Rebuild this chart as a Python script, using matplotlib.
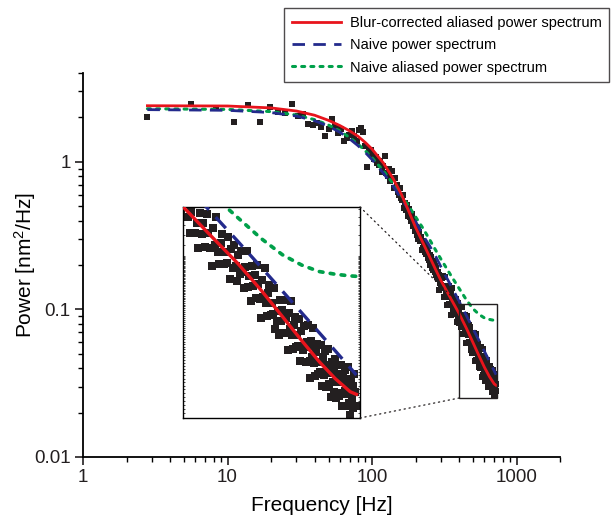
import matplotlib
matplotlib.use('Agg')
import matplotlib.pyplot as plt
import numpy as np
from matplotlib.patches import Rectangle, ConnectionPatch
from matplotlib.ticker import FuncFormatter, LogLocator, NullFormatter

plt.rcParams['font.family'] = ['Liberation Sans', 'DejaVu Sans']
plt.rcParams['mathtext.fontset'] = 'custom'
plt.rcParams['mathtext.rm'] = 'Liberation Sans'
plt.rcParams['mathtext.default'] = 'regular'

bin_width = 2.79
n_bins = 258

# measured power, one value per bin [nm^2/Hz]
power = [
    2.01, 2.46, 2.31, 1.86, 2.41, 1.86, 2.36, 2.16, 2.14, 2.47,
    2.05, 2.12, 1.80, 1.78, 1.83, 1.71, 1.50, 1.67, 1.95, 1.74,
    1.56, 1.66, 1.39, 1.45, 1.52, 1.62, 1.49, 1.38, 1.65, 1.69,
    1.60, 1.29, 0.92, 1.21, 1.21, 1.12, 1.05, 1.08, 0.98, 0.95,
    1.01, 0.86, 0.93, 1.10, 0.84, 0.80, 0.90, 0.74, 0.87, 0.78,
    0.66, 0.775, 0.70, 0.62, 0.60, 0.66, 0.57, 0.55, 0.60, 0.49,
    0.53, 0.47, 0.51, 0.43, 0.48, 0.42, 0.40, 0.44, 0.37, 0.41,
    0.34, 0.36, 0.32, 0.355, 0.30, 0.335, 0.29, 0.31, 0.253, 0.29,
    0.262, 0.28, 0.245, 0.27, 0.236, 0.258, 0.222, 0.24, 0.215, 0.232,
    0.20, 0.225, 0.19, 0.212, 0.186, 0.205, 0.178, 0.196, 0.172, 0.19,
    0.165, 0.18, 0.16, 0.136, 0.17, 0.152, 0.165, 0.146, 0.164, 0.139,
    0.169, 0.140, 0.122, 0.145, 0.166, 0.122, 0.133, 0.107, 0.144, 0.121,
    0.133, 0.108, 0.143, 0.122, 0.107, 0.092, 0.127, 0.110, 0.140, 0.103,
    0.093, 0.112, 0.121, 0.093, 0.103, 0.094, 0.118, 0.082, 0.106, 0.090,
    0.110, 0.092, 0.081, 0.1007, 0.0856, 0.1045, 0.0870, 0.0762, 0.0910, 0.1045,
    0.0768, 0.0843, 0.0682, 0.0921, 0.0771, 0.0850, 0.0697, 0.0923, 0.0787, 0.0694,
    0.0589, 0.0811, 0.0706, 0.0899, 0.0667, 0.0596, 0.0727, 0.0780, 0.0601, 0.0667,
    0.0606, 0.0762, 0.0534, 0.0572, 0.0627, 0.0508, 0.0684, 0.0574, 0.0632, 0.0519,
    0.0688, 0.0589, 0.0519, 0.0446, 0.0613, 0.0534, 0.0681, 0.0507, 0.0452, 0.0552,
    0.0593, 0.0457, 0.0509, 0.0463, 0.0581, 0.0408, 0.0525, 0.0447, 0.0547, 0.0457,
    0.0402, 0.0480, 0.0553, 0.0462, 0.0408, 0.0351, 0.0483, 0.0422, 0.0538, 0.0400,
    0.0359, 0.0439, 0.0471, 0.0364, 0.0405, 0.0370, 0.0467, 0.0328, 0.0423, 0.0362,
    0.0444, 0.0372, 0.0327, 0.0392, 0.0453, 0.0333, 0.0367, 0.0299, 0.0405, 0.0341,
    0.0377, 0.0311, 0.0413, 0.0296, 0.0363, 0.0392, 0.0303, 0.0339, 0.0310, 0.0392,
    0.0276, 0.0357, 0.0306, 0.0376, 0.0315, 0.0278, 0.0334, 0.0386, 0.0285, 0.0315,
    0.0257, 0.0349, 0.0295, 0.0329, 0.0272, 0.0363, 0.0313, 0.0278,
]
freq = bin_width * np.arange(1, n_bins + 1)

# fitted model curves
curve_freq = [2.79, 10, 20, 30, 40, 50, 60, 70, 80, 90, 100, 120, 140, 160, 180,
              200, 225, 250, 275, 300, 350, 400, 450, 500, 550, 600, 650, 700, 722]
blur_corrected = [2.40, 2.39, 2.32, 2.21, 2.07, 1.91, 1.76, 1.62, 1.49, 1.35, 1.22,
                  0.98, 0.77, 0.60, 0.46, 0.36, 0.283, 0.228, 0.187, 0.157, 0.119,
                  0.094, 0.0745, 0.0595, 0.0485, 0.0405, 0.0350, 0.0313, 0.0306]
naive = [2.258, 2.234, 2.158, 2.043, 1.901, 1.745, 1.586, 1.431, 1.287, 1.155, 1.036,
         0.837, 0.682, 0.562, 0.468, 0.395, 0.318, 0.270, 0.230, 0.194, 0.146,
         0.1136, 0.0907, 0.0740, 0.0615, 0.0519, 0.0444, 0.0384, 0.0361]
naive_aliased = [2.290, 2.266, 2.190, 2.075, 1.932, 1.776, 1.617, 1.462, 1.318, 1.185,
                 1.067, 0.867, 0.712, 0.592, 0.499, 0.424, 0.355, 0.298, 0.253, 0.219,
                 0.171, 0.139, 0.116, 0.101, 0.0925, 0.0875, 0.0855, 0.0843, 0.0840]

labels = ['Blur-corrected aliased power spectrum', 'Naive power spectrum',
          'Naive aliased power spectrum']

# zoomed region marked on the main plot, and the range shown in the inset
zoom_box_x = (401, 731)
zoom_box_y = (0.0251, 0.109)
inset_x = (305, 735)
inset_y = (0.025, 0.152)

red = '#e8141c'
navy = '#232a8c'
green = '#00a04a'


def draw(ax, lw_scale=1.0, ms=4.8):
    ax.plot(freq, power, 's', color='#231f20', ms=ms, mew=0, zorder=2)
    l1, = ax.plot(curve_freq, blur_corrected, '-', color=red, lw=2.0 * lw_scale, zorder=5)
    l2, = ax.plot(curve_freq, naive, '--', color=navy, lw=2.0 * lw_scale,
                  dashes=(4.5, 3), zorder=4)
    l3, = ax.plot(curve_freq, naive_aliased, ':', color=green, lw=2.2 * lw_scale,
                  dashes=(1, 2), dash_capstyle='round', zorder=3)
    return l1, l2, l3


fig = plt.figure(figsize=(6.14, 5.24), dpi=100)
ax = fig.add_axes([0.1352, 0.1279, 0.7769, 0.7328])
handles = draw(ax)
ax.set_xscale('log')
ax.set_yscale('log')
ax.set_xlim(1, 2000)
ax.set_ylim(0.01, 4)
for s in ['top', 'right']:
    ax.spines[s].set_visible(False)
for s in ['left', 'bottom']:
    ax.spines[s].set_linewidth(1.3)
fmt = FuncFormatter(lambda v, _: f'{v:g}')
ax.xaxis.set_major_formatter(fmt)
ax.yaxis.set_major_formatter(fmt)
ax.xaxis.set_minor_formatter(NullFormatter())
ax.yaxis.set_minor_formatter(NullFormatter())
ax.tick_params(which='major', direction='out', length=6, width=1.2, labelsize=13.5,
               colors='#231f20', pad=3)
ax.tick_params(which='minor', direction='out', length=3.5, width=1.0)
ax.set_xlabel('Frequency [Hz]', fontsize=15, labelpad=7)
ax.set_ylabel('Power [nm$^2$/Hz]', fontsize=15, labelpad=-3)

ax.add_patch(Rectangle((zoom_box_x[0], zoom_box_y[0]), zoom_box_x[1] - zoom_box_x[0],
                       zoom_box_y[1] - zoom_box_y[0], fill=False, ec='#231f20', lw=1.0, zorder=6))

axin = fig.add_axes([0.2980, 0.2023, 0.2883, 0.4027])
draw(axin, 1.2, 5.2)
axin.set_xscale('log')
axin.set_yscale('log')
axin.set_xlim(*inset_x)
axin.set_ylim(*inset_y)
axin.set_xticks([])
axin.xaxis.set_minor_locator(LogLocator(subs=[]))
axin.yaxis.set_major_locator(LogLocator(subs=np.arange(1, 10, 0.1), numticks=200))
axin.yaxis.set_minor_locator(LogLocator(subs=[]))
axin.yaxis.set_major_formatter(NullFormatter())
axin.tick_params(axis='y', which='major', direction='in', length=1.5, width=0.5,
                 left=True, right=True)
for s in axin.spines.values():
    s.set_linewidth(1.0)

for pa, pb in [((1, 1), (zoom_box_x[0], zoom_box_y[1])), ((1, 0), (zoom_box_x[0], zoom_box_y[0]))]:
    con = ConnectionPatch(xyA=pa, coordsA=axin.transAxes, xyB=pb, coordsB=ax.transData,
                          ls=(0, (1, 3)), lw=0.9, color='#231f20')
    fig.add_artist(con)

leg = fig.legend(handles, labels, loc='upper right', bbox_to_anchor=(0.992, 0.984),
                 borderaxespad=0, fontsize=10.5, frameon=True, fancybox=False,
                 edgecolor='#231f20', handlelength=3.4, borderpad=0.5,
                 labelspacing=0.58, handletextpad=0.6)
leg.get_frame().set_linewidth(1.0)

fig.savefig('out.png', dpi=100)
